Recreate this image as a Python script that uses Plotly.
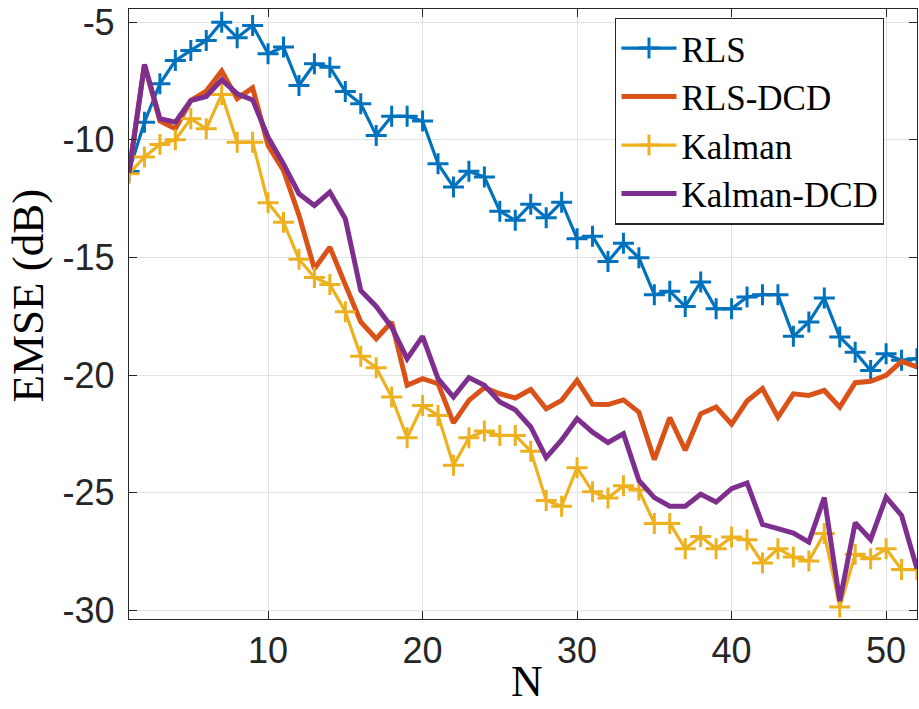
import plotly.graph_objects as go

# Number of taps / iterations on the horizontal axis
N = list(range(1, 53))

rls = [-11.34, -9.25, -7.62, -6.63, -6.20, -5.78, -5.00, -5.66, -5.14, -6.34,
       -6.06, -7.69, -6.77, -6.91, -7.95, -8.47, -9.81, -9.00, -9.00, -9.20,
       -11.02, -12.00, -11.33, -11.58, -13.03, -13.42, -12.74, -13.31, -12.65, -14.20,
       -14.10, -15.17, -14.39, -15.01, -16.58, -16.43, -17.08, -16.04, -17.18, -17.18,
       -16.68, -16.58, -16.58, -18.35, -17.74, -16.72, -18.38, -19.02, -19.80, -19.09,
       -19.37, -19.30]

rls_dcd = [-11.40, -6.80, -9.20, -9.53, -8.33, -7.93, -7.08, -8.25, -7.79, -10.24,
           -11.30, -13.20, -15.48, -14.56, -16.15, -17.74, -18.45, -17.74, -20.43, -20.15,
           -20.36, -22.03, -21.07, -20.53, -20.79, -20.97, -20.61, -21.43, -21.07, -20.22,
           -21.24, -21.25, -21.05, -21.57, -23.59, -21.80, -23.19, -21.64, -21.35, -22.08,
           -21.10, -20.57, -21.78, -20.79, -20.86, -20.65, -21.36, -20.32, -20.26, -20.01,
           -19.41, -19.65]

kalman = [-11.44, -10.73, -10.20, -10.00, -9.10, -9.53, -8.07, -10.10, -10.10, -12.67,
          -13.50, -15.07, -15.85, -16.15, -17.30, -19.20, -19.68, -20.93, -22.66, -21.29,
          -21.71, -23.83, -22.66, -22.37, -22.56, -22.56, -23.23, -25.32, -25.57, -23.93,
          -24.95, -25.22, -24.70, -24.88, -26.30, -26.30, -27.37, -26.85, -27.37, -26.88,
          -26.99, -27.98, -27.37, -27.73, -27.90, -26.73, -29.85, -27.61, -27.80, -27.37,
          -28.26, -28.26]

kalman_dcd = [-11.40, -6.80, -9.10, -9.25, -8.33, -8.16, -7.45, -8.04, -8.30, -9.89,
              -11.02, -12.29, -12.79, -12.22, -13.35, -16.40, -17.08, -17.96, -19.30, -18.35,
              -20.15, -20.93, -20.10, -20.43, -21.14, -21.47, -22.20, -23.50, -22.75, -21.85,
              -22.42, -22.86, -22.49, -24.47, -25.20, -25.57, -25.57, -25.06, -25.39, -24.82,
              -24.58, -26.34, -26.52, -26.71, -27.09, -25.20, -29.60, -26.27, -26.98, -25.18,
              -25.96, -28.22]

x_ticks = [10, 20, 30, 40, 50]
y_ticks = [-30, -25, -20, -15, -10, -5]

BLUE = "#0072BD"
ORANGE = "#D95319"
YELLOW = "#EDB120"
PURPLE = "#7E2F8E"
INK = "#262626"

fig = go.Figure()
fig.add_trace(go.Scatter(
    x=N, y=rls, name="RLS", mode="lines+markers",
    line=dict(color=BLUE, width=3.2),
    marker=dict(symbol="cross-thin", size=15, line=dict(color=BLUE, width=3)),
))
fig.add_trace(go.Scatter(
    x=N, y=rls_dcd, name="RLS-DCD", mode="lines",
    line=dict(color=ORANGE, width=5),
))
fig.add_trace(go.Scatter(
    x=N, y=kalman, name="Kalman", mode="lines+markers",
    line=dict(color=YELLOW, width=3.2),
    marker=dict(symbol="cross-thin", size=15, line=dict(color=YELLOW, width=3)),
))
fig.add_trace(go.Scatter(
    x=N, y=kalman_dcd, name="Kalman-DCD", mode="lines",
    line=dict(color=PURPLE, width=5),
))

axis_common = dict(
    showgrid=True, gridcolor="#e2e2e2", gridwidth=1.3,
    showline=True, linecolor=INK, linewidth=1.3, mirror="ticks",
    ticks="inside", ticklen=8, tickwidth=1.3, tickcolor=INK,
    tickfont=dict(family="Liberation Sans, Arial, sans-serif", size=36, color=INK),
    zeroline=False,
)

fig.update_xaxes(range=[1, 52], tickvals=x_ticks, ticktext=[str(v) for v in x_ticks],
                 **axis_common)
fig.update_yaxes(range=[-30.36, -4.44], tickvals=y_ticks, ticktext=[str(v) for v in y_ticks],
                 ticklabelstandoff=6, **axis_common)

serif = "Liberation Serif, Times New Roman, serif"

fig.update_layout(
    width=919, height=709,
    margin=dict(l=129, r=2, t=8.5, b=90.3),
    paper_bgcolor="white", plot_bgcolor="white",
    showlegend=True,
    legend=dict(
        x=0.617, y=0.986, xanchor="left", yanchor="top",
        bgcolor="white", bordercolor=INK, borderwidth=1.3,
        font=dict(family=serif, size=35, color="black"),
        tracegroupgap=0, itemwidth=55,
    ),
    annotations=[
        dict(text="EMSE (dB)", xref="paper", yref="paper",
             x=-0.128, y=0.5305, xanchor="center", yanchor="middle",
             textangle=-90, showarrow=False,
             font=dict(family=serif, size=45, color="black")),
        dict(text="N", xref="paper", yref="paper",
             x=0.505, y=-0.1465, xanchor="center", yanchor="bottom",
             showarrow=False,
             font=dict(family=serif, size=44, color="black")),
    ],
)

fig.write_html("out.html")
